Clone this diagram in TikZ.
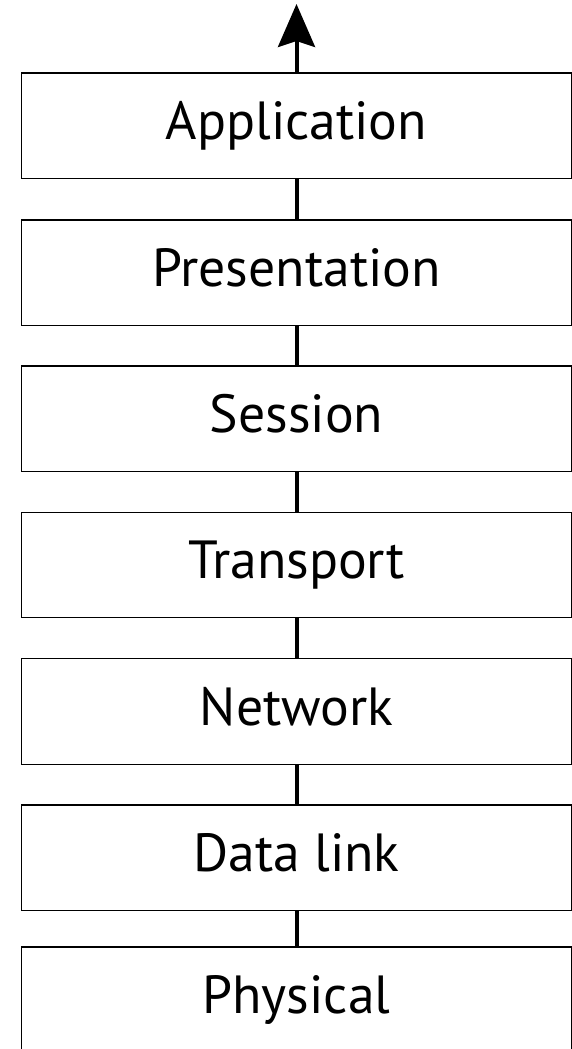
\documentclass[tikz,border=0pt]{standalone}
\usepackage{fontspec}
\setmainfont{PT Sans}
\usetikzlibrary{arrows.meta}
\begin{document}
\begin{tikzpicture}[x=1pt,y=-1pt,
  layer/.style={draw=black, line width=1.2pt, minimum width=549.5pt, minimum height=105.5pt,
    inner sep=0pt, text height=37.6pt, text depth=10.5pt, font=\fontsize{53.7}{60}\selectfont},
  link/.style={line width=4pt, draw=black}]
\useasboundingbox (0,0) rectangle (572,1049);
\node[layer] (app)  at (296.5, 125.75) {Application};
\node[layer] (pres) at (296.5, 272.75) {Presentation};
\node[layer] (sess) at (296.5, 418.75) {Session};
\node[layer] (trans) at (296.5, 565.05) {Transport};
\node[layer] (net)  at (296.5, 711.45) {Network};
\node[layer] (dl)   at (296.5, 857.75) {Data link};
\node[layer] (phy)  at (296.5, 999.75) {Physical};
\coordinate (tip) at (296.5, 4);
\draw[link, -{Stealth[length=43pt, width=37pt, inset=6pt]}] (app.north) -- (tip);
\draw[link] (app.south) -- (pres.north);
\draw[link] (pres.south) -- (sess.north);
\draw[link] (sess.south) -- (trans.north);
\draw[link] (trans.south) -- (net.north);
\draw[link] (net.south) -- (dl.north);
\draw[link] (dl.south) -- (phy.north);
\end{tikzpicture}
\end{document}
